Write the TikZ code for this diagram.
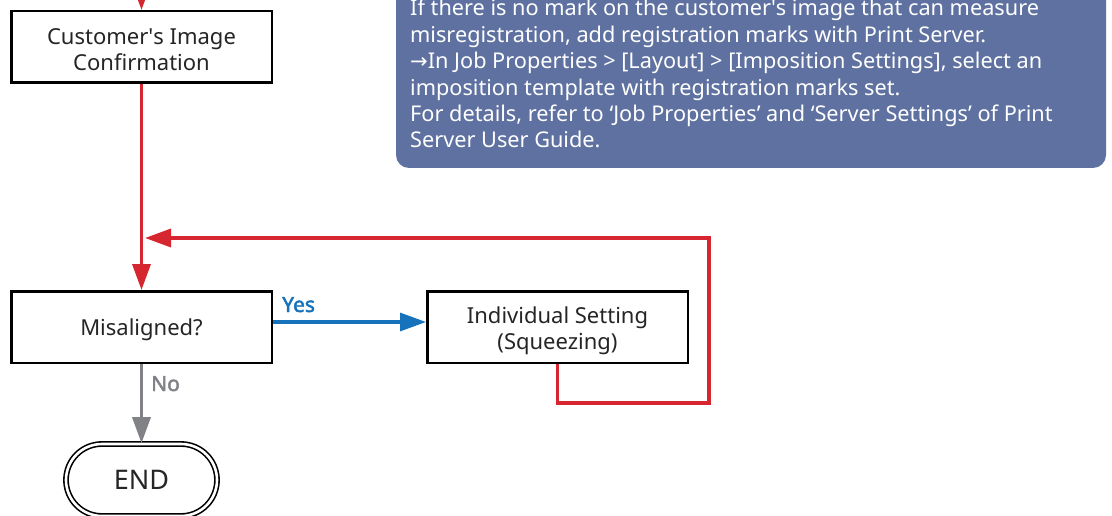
\documentclass[tikz,border=0pt]{standalone}
\usepackage{fontspec}
\setmainfont{Noto Sans}
\newfontfamily\symfont{DejaVu Sans}
\newfontfamily\lblfont{Noto Sans}[FakeBold=2.2]
\usetikzlibrary{arrows.meta,shapes.misc}
\definecolor{notefill}{RGB}{94,113,160}
\definecolor{flowred}{RGB}{214,38,48}
\definecolor{flowblue}{RGB}{22,114,186}
\definecolor{flowgray}{RGB}{128,130,133}
\definecolor{txt}{RGB}{38,36,38}
\newcommand{\lift}[1]{\rule{0pt}{#1}}
\begin{document}
\begin{tikzpicture}[x=1pt,y=-1pt,
  box/.style={draw=black, line width=2.5pt, minimum width=260.5pt, minimum height=71.5pt,
    align=center, text=txt, inner sep=0pt, font=\fontsize{22}{26.5}\selectfont},
  endbox/.style={rounded rectangle, draw=black, line width=1.6pt, double=white,
    double distance=2.6pt, minimum width=151pt, minimum height=72pt, text=txt,
    inner sep=0pt, font=\fontsize{27}{30}\selectfont},
  noteline/.style={anchor=base west, inner sep=0pt, text=white, font=\fontsize{21.7}{26}\selectfont},
  redarrow/.style={draw=flowred, line width=3.5pt, -{Triangle[length=26pt,width=18pt]}},
  bluearrow/.style={draw=flowblue, line width=3.2pt, -{Triangle[length=26pt,width=18pt]}},
  grayarrow/.style={draw=flowgray, line width=3.5pt, -{Triangle[length=26pt,width=18pt]}},
  lbl/.style={inner sep=0pt, anchor=base west, font=\lblfont\fontsize{21}{24}\selectfont}
]
\useasboundingbox (0,0) rectangle (1112,516);
\clip (0,0) rectangle (1112,516);

% note box
\fill[notefill, rounded corners=13pt] (396,-30) rectangle (1106,168);
\node[noteline] (n1) at (410,16) {If there is no mark on the customer\textquotesingle s image that can measure};
\node[noteline] (n2) at (410,42.5) {misregistration, add registration marks with Print Server.};
\node[noteline] (n3) at (410,69) {{\symfont\fontsize{21}{26}\selectfont →}In Job Properties > [Layout] > [Imposition Settings], select an};
\node[noteline] (n4) at (410,95.5) {imposition template with registration marks set.};
\node[noteline] (n5) at (410,122) {For details, refer to ‘Job Properties’ and ‘Server Settings’ of Print};
\node[noteline] (n6) at (410,148) {Server User Guide.};

% nodes
\node[box] (cust) at (141.5,47) {\lift{21pt}Customer\textquotesingle s Image\\Confirmation};
\node[box] (mis) at (141.5,327) {\lift{23pt}Misaligned?};
\node[box] (ind) at (557.5,327) {\lift{24pt}Individual Setting\\(Squeezing)};
\node[endbox] (end) at (141.5,480) {END};

\coordinate (top) at (141.5,-40);
\coordinate (merge) at (145,238);
\coordinate (c1) at (557.5,403);
\coordinate (c2) at (709,403);
\coordinate (c3) at (709,238);

% connectors
\draw[redarrow] (top) -- (cust.north);
\draw[redarrow] (cust.south) -- (mis.north);
\draw[redarrow] (ind.south) -- (c1) -- (c2) -- (c3) -- (merge);
\draw[bluearrow] ([yshift=5pt]mis.east) -- ([yshift=5pt]ind.west);
\draw[grayarrow] (mis.south) -- (end.north);
\node[lbl, text=flowblue] (yes) at ([xshift=9pt,yshift=15pt]mis.east) {Yes};
\node[lbl, text=flowgray] (no) at ([xshift=9.5pt,yshift=-27pt]mis.south) {No};
\end{tikzpicture}
\end{document}
